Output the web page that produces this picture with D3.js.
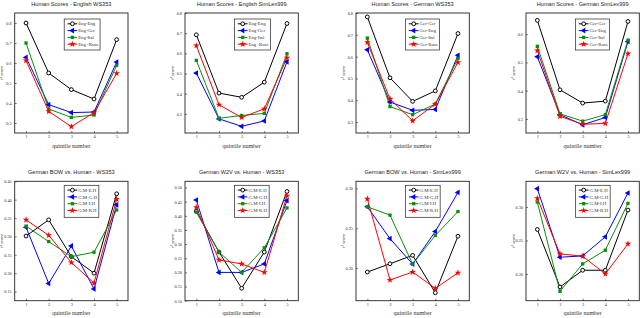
<!DOCTYPE html>
<html><head><meta charset="utf-8">
<script src="https://cdn.jsdelivr.net/npm/d3@7"></script>
<style>body{margin:0;background:#fff}svg{display:block}</style>
</head><body>
<script>
// ---- data ----
const quintiles = [1, 2, 3, 4, 5];
const titles = [
  "Human Scores - English WS353", "Human Scores - English SimLex999",
  "Human Scores - German WS353", "Human Scores - German SimLex999",
  "German BOW vs. Human - WS353", "German W2V vs. Human - WS353",
  "German BOW vs. Human - SimLex999", "German W2V vs. Human - SimLex999"
];
const legendEng = ["Eng-Eng", "Eng-Ger", "Eng-Ital", "Eng -Russ"];
const legendGer = ["Ger-Ger", "Ger-Eng", "Ger-Ital", "Ger-Russ"];
const legendGM = ["G.M-E.H", "G.M-G.H", "G.M-I.H", "G.M-R.H"];

const humanEnWS353 = [
  [0.800, 0.550, 0.467, 0.420, 0.717],
  [0.628, 0.392, 0.352, 0.355, 0.605],
  [0.700, 0.370, 0.328, 0.340, 0.588],
  [0.612, 0.358, 0.282, 0.352, 0.548]
];
const humanEnSimLex = [
  [0.692, 0.403, 0.382, 0.457, 0.748],
  [0.502, 0.275, 0.238, 0.265, 0.558],
  [0.565, 0.278, 0.292, 0.302, 0.598],
  [0.638, 0.345, 0.282, 0.325, 0.578]
];
const humanDeWS353 = [
  [0.782, 0.503, 0.395, 0.443, 0.706],
  [0.631, 0.392, 0.354, 0.358, 0.606],
  [0.685, 0.371, 0.334, 0.383, 0.592],
  [0.665, 0.406, 0.306, 0.382, 0.574]
];
const humanDeSimLex = [
  [0.649, 0.403, 0.356, 0.363, 0.645],
  [0.520, 0.315, 0.279, 0.305, 0.574],
  [0.557, 0.318, 0.292, 0.315, 0.579],
  [0.542, 0.309, 0.281, 0.284, 0.531]
];
const bowWS353 = [
  [0.301, 0.345, 0.245, 0.200, 0.416],
  [0.325, 0.172, 0.274, 0.157, 0.386],
  [0.328, 0.286, 0.245, 0.257, 0.372],
  [0.345, 0.303, 0.229, 0.173, 0.401]
];
const w2vWS353 = [
  [0.416, 0.272, 0.144, 0.272, 0.486],
  [0.456, 0.200, 0.200, 0.230, 0.454],
  [0.413, 0.272, 0.200, 0.287, 0.428],
  [0.430, 0.244, 0.230, 0.200, 0.471]
];
const bowSimLex = [
  [0.195, 0.2054, 0.216, 0.169, 0.240],
  [0.277, 0.237, 0.205, 0.246, 0.295],
  [0.277, 0.2665, 0.205, 0.241, 0.271],
  [0.287, 0.185, 0.195, 0.1745, 0.194]
];
const w2vSimLex = [
  [0.2665, 0.1805, 0.2055, 0.2055, 0.2955],
  [0.3275, 0.225, 0.227, 0.2555, 0.321],
  [0.3075, 0.174, 0.215, 0.2355, 0.3055],
  [0.313, 0.230, 0.2265, 0.200, 0.245]
];
const yTicksA = [0.3, 0.4, 0.5, 0.6, 0.7, 0.8];
const yTicksB = [0.3, 0.4, 0.5, 0.6];
const yTicksC = [0.15, 0.20, 0.25, 0.30, 0.35, 0.40, 0.45];
const yTicksD = [0.10, 0.15, 0.20, 0.25, 0.30, 0.35, 0.40, 0.45, 0.50];
const yTicksE = [0.20, 0.25, 0.30];

const plots = [
  {values: humanEnWS353, legend: legendEng, dom: [0.25, 0.85], ticks: yTicksA, fmt: ".1f"},
  {values: humanEnSimLex, legend: legendEng, dom: [0.205, 0.80], ticks: yTicksA, fmt: ".1f"},
  {values: humanDeWS353, legend: legendGer, dom: [0.25, 0.80], ticks: yTicksA, fmt: ".1f"},
  {values: humanDeSimLex, legend: legendGer, dom: [0.25, 0.675], ticks: yTicksB, fmt: ".1f"},
  {values: bowWS353, legend: legendGM, dom: [0.125, 0.45], ticks: yTicksC, fmt: ".2f"},
  {values: w2vWS353, legend: legendGM, dom: [0.10, 0.522], ticks: yTicksD, fmt: ".2f"},
  {values: bowSimLex, legend: legendGM, dom: [0.159, 0.309], ticks: yTicksE, fmt: ".2f"},
  {values: w2vSimLex, legend: legendGM, dom: [0.16, 0.3385], ticks: yTicksE, fmt: ".2f"}
];

// ---- style ----
const colors = ["#000000", "#0000ff", "#0a8f0a", "#ff0000"];
const serif = "'Liberation Serif','Times New Roman',serif";
const sans = "'Liberation Sans',Arial,sans-serif";

const svg = d3.select("body").append("svg").attr("width", 640).attr("height", 318);
svg.append("rect").attr("width", 640).attr("height", 318).attr("fill", "#fff");

const lefts = [14.7, 185, 356, 526];
const W = 113.3;

function marker(g, s, cx, cy) {
  if (s === 0) {
    g.append("circle").attr("cx", cx).attr("cy", cy).attr("r", 1.9)
      .attr("fill", "#fff").attr("stroke", colors[0]).attr("stroke-width", 1);
  } else if (s === 1) {
    g.append("path").attr("d", d3.symbol(d3.symbolTriangle, 14)())
      .attr("transform", `translate(${cx},${cy}) rotate(-90)`).attr("fill", colors[1]);
  } else if (s === 2) {
    g.append("path").attr("d", d3.symbol(d3.symbolSquare, 11)())
      .attr("transform", `translate(${cx},${cy})`).attr("fill", colors[2]);
  } else {
    g.append("path").attr("d", d3.symbol(d3.symbolStar, 14)())
      .attr("transform", `translate(${cx},${cy})`).attr("fill", colors[3]);
  }
}

plots.forEach((p, k) => {
  const col = k % 4, row = Math.floor(k / 4);
  const L = lefts[col];
  const T = row ? 181.3 : 13, B = row ? 300.7 : 133;
  const x = d3.scaleLinear().domain([0.5, 5.5]).range([L, L + W]);
  const y = d3.scaleLinear().domain(p.dom).range([B, T]);
  const g = svg.append("g");

  // title
  g.append("text").attr("x", L + W / 2).attr("y", T - 9).attr("dy", "0.35em")
    .attr("text-anchor", "middle").attr("font-family", sans).attr("font-size", 5.6)
    .attr("fill", "#222").text(titles[k]);

  // axes
  const ya = g.append("g").attr("transform", `translate(${L},0)`)
    .call(d3.axisLeft(y).tickValues(p.ticks).tickFormat(d3.format(p.fmt))
      .tickSizeInner(-2).tickSizeOuter(0).tickPadding(3));
  const xa = g.append("g").attr("transform", `translate(0,${B})`)
    .call(d3.axisBottom(x).tickValues(quintiles).tickFormat(d3.format("d"))
      .tickSizeInner(-2).tickSizeOuter(0).tickPadding(2.3));
  [ya, xa].forEach(a => {
    a.select(".domain").remove();
    a.selectAll("line").attr("stroke", "#222").attr("stroke-width", 0.6);
    a.selectAll("text").attr("font-family", serif).attr("font-size", 4.3).attr("fill", "#333");
  });

  // frame
  g.append("rect").attr("x", L).attr("y", T).attr("width", W).attr("height", B - T)
    .attr("fill", "none").attr("stroke", "#222").attr("stroke-width", 0.9);

  // axis labels
  g.append("text").attr("x", L + W / 2).attr("y", B + 12.5).attr("dy", "0.35em")
    .attr("text-anchor", "middle").attr("font-family", serif).attr("font-size", 6)
    .attr("fill", "#333").text("quintile number");
  const yl = g.append("text").attr("transform", `translate(${L - 11.5},${(T + B) / 2}) rotate(-90)`)
    .attr("text-anchor", "middle").attr("font-family", serif).attr("font-size", 4.6)
    .attr("font-style", "italic").attr("fill", "#222");
  yl.append("tspan").text("r");
  yl.append("tspan").attr("font-size", 3.2).attr("dy", -1.2).text("s");
  yl.append("tspan").attr("dy", 1.2).text(" score");

  // series
  const line = d3.line().x((d, i) => x(quintiles[i])).y(d => y(d));
  p.values.forEach((vals, s) => {
    g.append("path").attr("d", line(vals)).attr("fill", "none")
      .attr("stroke", colors[s]).attr("stroke-width", 1);
  });
  p.values.forEach((vals, s) => {
    vals.forEach((v, i) => marker(g, s, x(quintiles[i]), y(v)));
  });

  // legend
  const lx = L + 49.5, ly = T + (row ? 4 : 6);
  const lg = g.append("g");
  const box = lg.append("rect").attr("x", lx).attr("y", ly).attr("height", row ? 32 : 31)
    .attr("fill", "#fff").attr("stroke", "#222").attr("stroke-width", 0.7);
  let maxw = 0;
  p.legend.forEach((lab, s) => {
    const yy = ly + 4.8 + s * 6.8;
    lg.append("line").attr("x1", lx + 3.3).attr("x2", lx + 13).attr("y1", yy).attr("y2", yy)
      .attr("stroke", colors[s]).attr("stroke-width", 1);
    marker(lg, s, lx + 8.2, yy);
    const t = lg.append("text").attr("x", lx + 14).attr("y", yy).attr("dy", "0.35em")
      .attr("font-family", serif).attr("font-size", 4.8).attr("fill", "#333").text(lab);
    maxw = Math.max(maxw, t.node().getComputedTextLength());
  });
  box.attr("width", 14 + maxw + 2);
});
</script>
</body></html>
